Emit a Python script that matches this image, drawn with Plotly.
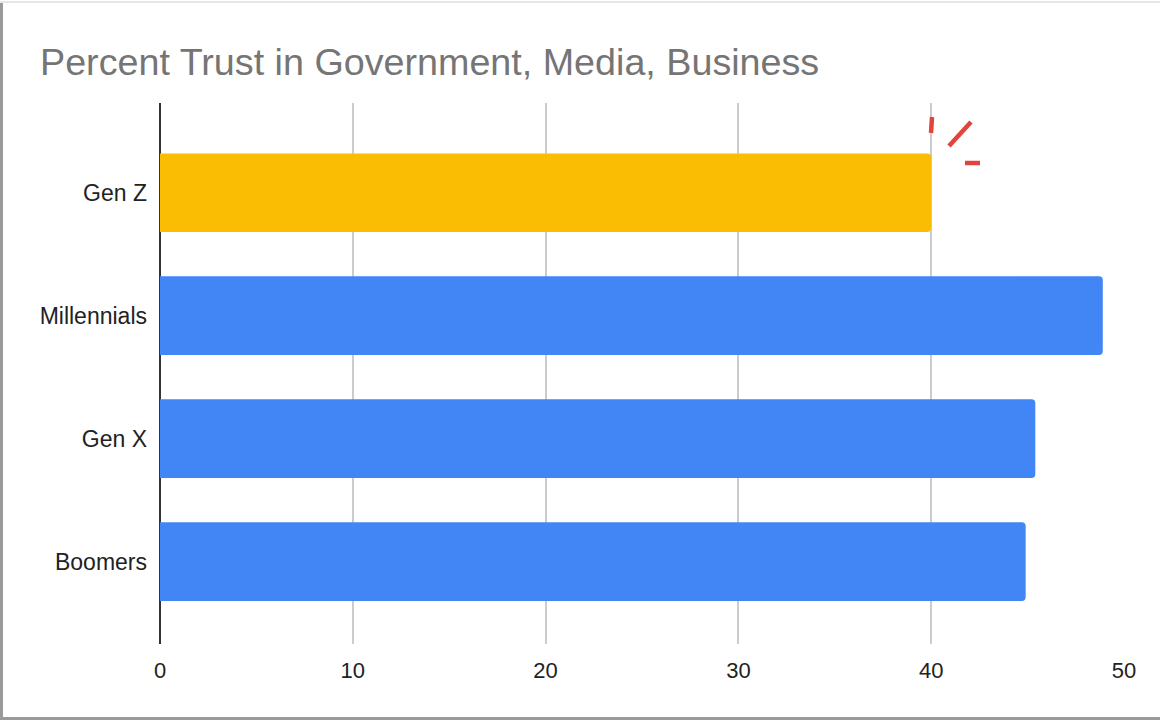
import plotly.graph_objects as go

categories = ["Boomers", "Gen X", "Millennials", "Gen Z"]
values = [44.9, 45.4, 48.9, 40.0]
bar_colors = ["#4285F4", "#4285F4", "#4285F4", "#FBBC04"]
x_ticks = [0, 10, 20, 30, 40, 50]
title_text = "Percent Trust in Government, Media, Business"

W, H = 1160, 721
L, R, T, B = 160, 36, 103, 77
pw, ph = W - L - R, H - T - B


def px_x(px):
    return (px - L) / pw


def px_y(py):
    return (H - B - py) / ph


fig = go.Figure()
fig.add_trace(go.Bar(
    x=values, y=categories, orientation="h",
    marker=dict(color=bar_colors, line=dict(width=0), cornerradius=4),
    hoverinfo="x+y",
))

shapes = []
# hand-drawn red sparkle strokes near the Gen Z bar
strokes = [((932, 117), (931, 133)), ((971, 122), (949, 146)), ((965, 163), (980, 163))]
for (x0, y0), (x1, y1) in strokes:
    shapes.append(dict(type="line", xref="paper", yref="paper",
                       x0=px_x(x0), y0=px_y(y0), x1=px_x(x1), y1=px_y(y1),
                       line=dict(color="#E0443A", width=4.5)))
# frame of the screenshot
shapes.append(dict(type="line", xref="paper", yref="paper",
                   x0=px_x(1.5), y0=px_y(2), x1=px_x(1.5), y1=px_y(719),
                   line=dict(color="#9a9a9a", width=3)))
shapes.append(dict(type="line", xref="paper", yref="paper",
                   x0=px_x(0), y0=px_y(718.5), x1=px_x(1160), y1=px_y(718.5),
                   line=dict(color="#9a9a9a", width=3)))
shapes.append(dict(type="line", xref="paper", yref="paper",
                   x0=px_x(0), y0=px_y(2), x1=px_x(1160), y1=px_y(2),
                   line=dict(color="#e6e6e6", width=2)))

fig.update_layout(
    width=W, height=H,
    margin=dict(l=L, r=R, t=T, b=B, pad=0),
    paper_bgcolor="white", plot_bgcolor="white",
    font=dict(family="Liberation Sans, Arial, sans-serif", color="#222222", size=23),
    title=dict(text=title_text, x=40 / W, xanchor="left", xref="container",
               y=1 - 62 / H, yanchor="middle", yref="container",
               font=dict(size=37.7, color="#757575", family="Liberation Sans, Arial, sans-serif")),
    bargap=0.36,
    showlegend=False,
    xaxis=dict(range=[0, 50], tickvals=x_ticks, ticktext=[str(v) for v in x_ticks],
               showgrid=True, gridcolor="#cccccc", gridwidth=1.5,
               zeroline=True, zerolinecolor="#333333", zerolinewidth=1.5,
               showline=False, ticks="", ticklabelstandoff=11,
               tickfont=dict(size=22, color="#222222"), fixedrange=True),
    yaxis=dict(categoryorder="array", categoryarray=categories,
               range=[-0.67, 3.73], showgrid=False, showline=False, ticks="",
               ticklabelstandoff=12, tickfont=dict(size=23, color="#222222"),
               fixedrange=True),
    shapes=shapes,
)

fig.write_html("out.html")
